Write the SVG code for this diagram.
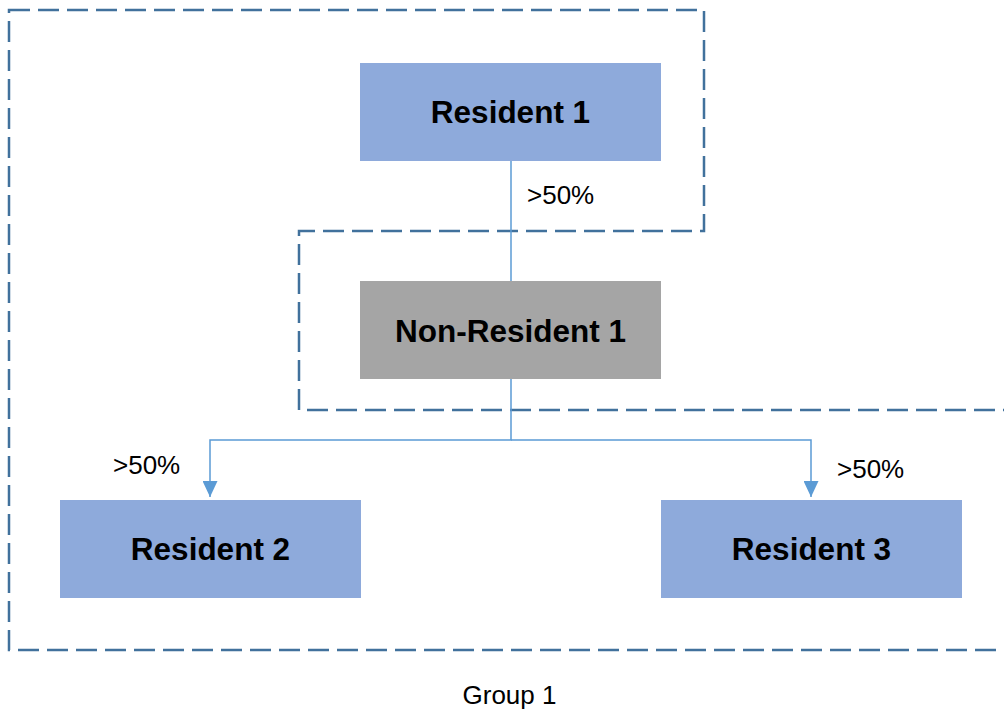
<svg xmlns="http://www.w3.org/2000/svg" width="1004" height="711" viewBox="0 0 1004 711">
<defs>
<style>
.res{fill:#8eaadb}
.non{fill:#a5a5a5}
.bt{font-family:"Liberation Sans",Arial,sans-serif;font-weight:bold;font-size:31.5px;fill:#000;text-anchor:middle}
.lb{font-family:"Liberation Sans",Arial,sans-serif;font-size:26px;fill:#000}
.con{fill:none;stroke:#5b9bd5;stroke-width:1.5}
.grp{fill:none;stroke:#41719c;stroke-width:2.5;stroke-dasharray:21 8}
</style>
<marker id="arr" viewBox="0 0 16 15" refX="16" refY="7.5" markerWidth="16" markerHeight="15" markerUnits="userSpaceOnUse" orient="auto">
<path d="M0,0 L16,7.5 L0,15 Z" fill="#5b9bd5"/>
</marker>
</defs>
<rect width="1004" height="711" fill="#fff"/>
<g id="group1">
<path class="grp" d="M9,10 H704 V231 H299 V410 H1010 V650 H9 Z"/>
<text class="lb" x="509.5" y="704" text-anchor="middle">Group 1</text>
</g>
<g id="connectors">
<line class="con" x1="511" y1="161" x2="511" y2="281"/>
<path class="con" d="M511,379 V440 H210 V497" marker-end="url(#arr)"/>
<path class="con" d="M511,440 H811 V497" marker-end="url(#arr)"/>
<text class="lb" x="527" y="204">&gt;50%</text>
<text class="lb" x="113" y="474">&gt;50%</text>
<text class="lb" x="837" y="478">&gt;50%</text>
</g>
<g id="resident1">
<rect class="res" x="360" y="63" width="301" height="98"/>
<text class="bt" x="510.5" y="123">Resident 1</text>
</g>
<g id="nonresident1">
<rect class="non" x="360" y="281" width="301" height="98"/>
<text class="bt" x="510.5" y="342">Non-Resident 1</text>
</g>
<g id="resident2">
<rect class="res" x="60" y="500" width="301" height="98"/>
<text class="bt" x="210.5" y="560">Resident 2</text>
</g>
<g id="resident3">
<rect class="res" x="661" y="500" width="301" height="98"/>
<text class="bt" x="811.5" y="560">Resident 3</text>
</g>
</svg>
